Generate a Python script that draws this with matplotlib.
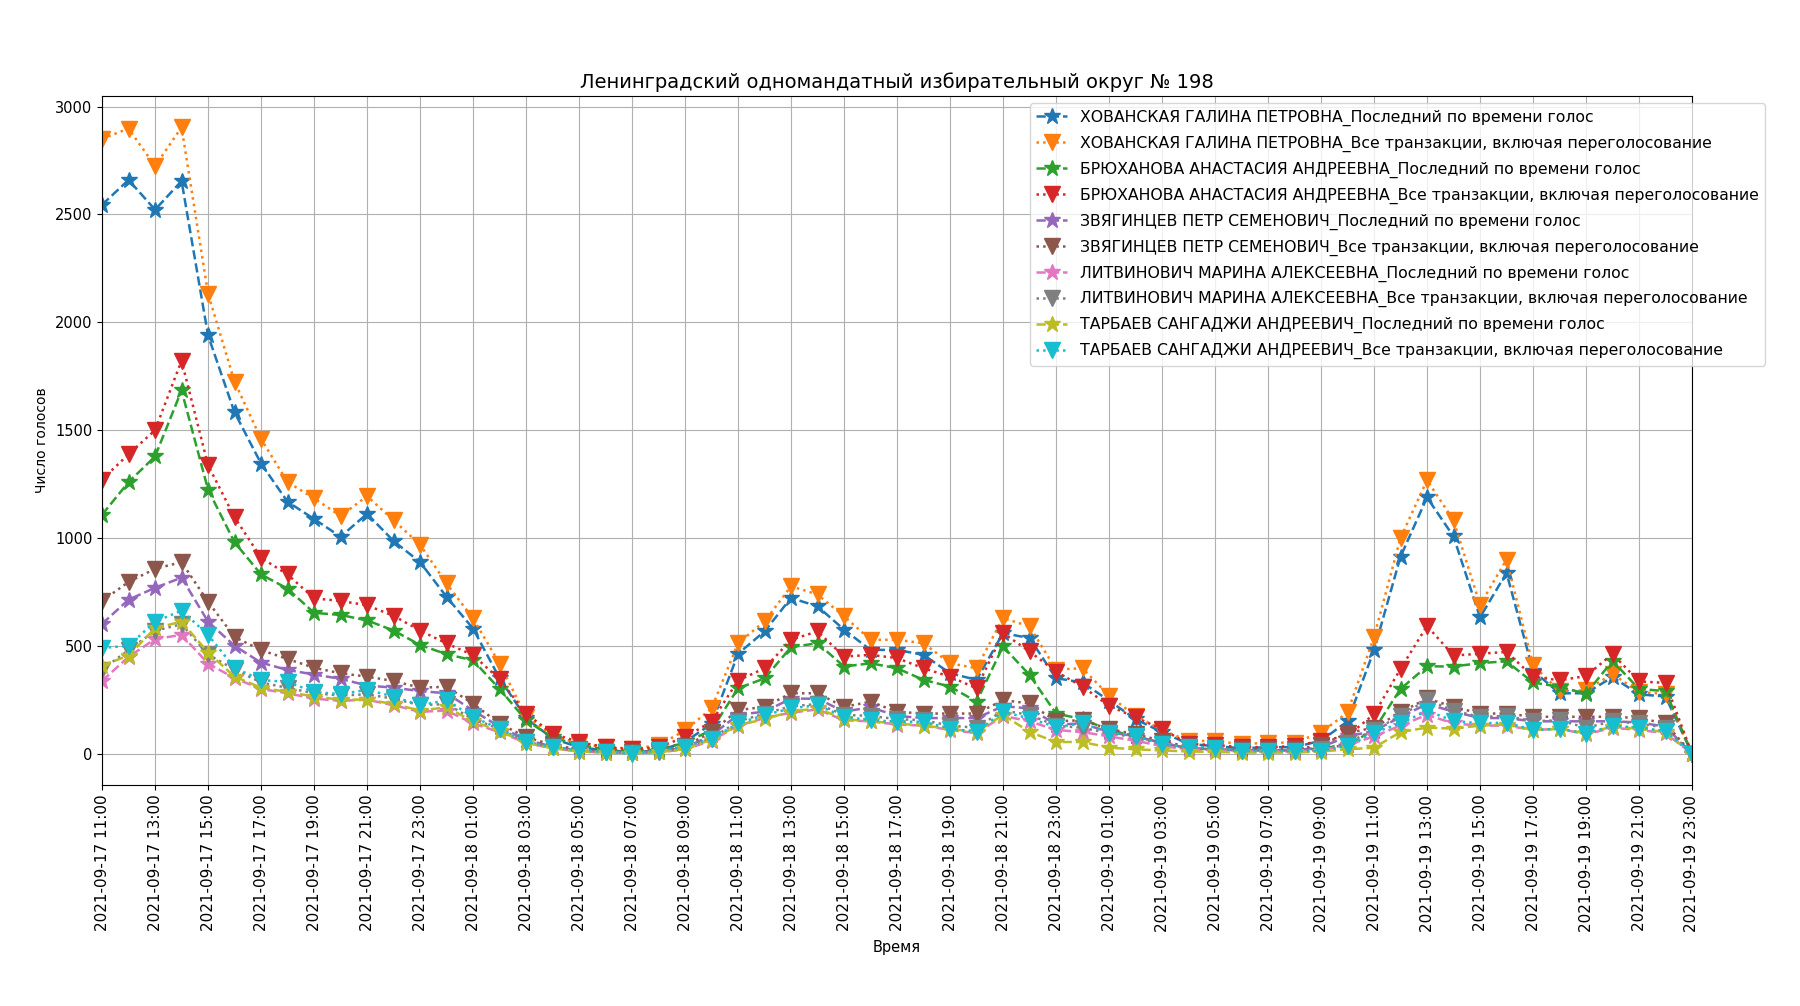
import pandas as pd
import matplotlib
matplotlib.use("Agg")
import matplotlib.pyplot as plt
import matplotlib.dates as mdates

# часы с 2021-09-17 11:00 по 2021-09-19 23:00
hours = pd.date_range("2021-09-17 11:00", "2021-09-19 23:00", freq="h")

hov_last = [2545, 2660, 2522, 2655, 1939, 1582, 1345, 1168, 1088, 1006, 1112, 986, 888,
            727, 580, 350, 165, 70, 30, 15, 8, 12, 55, 138,
            463, 567, 722, 683, 575, 481, 481, 458, 373, 342, 559, 536, 350, 330,
            246, 160, 100, 45, 35, 25, 30, 30, 60, 150,
            479, 913, 1188, 1007, 632, 838, 385, 280, 280, 355, 275, 265, 0]
hov_all = [2851, 2898, 2724, 2904, 2133, 1724, 1459, 1259, 1184, 1102, 1194, 1082, 969,
           789, 627, 418, 172, 85, 45, 31, 23, 39, 108, 210,
           512, 613, 776, 738, 637, 528, 528, 512, 419, 396, 629, 590, 390, 396,
           269, 175, 110, 59, 59, 44, 51, 51, 98, 191,
           541, 1000, 1268, 1082, 690, 900, 410, 290, 293, 370, 285, 278, 0]
bryuh_last = [1108, 1259, 1378, 1684, 1224, 980, 831, 765, 653, 643, 618, 571, 504,
              461, 433, 300, 155, 75, 40, 20, 12, 20, 50, 110,
              303, 349, 494, 512, 404, 419, 396, 342, 311, 241, 497, 365, 186, 160,
              110, 80, 50, 25, 20, 15, 15, 15, 25, 40,
              110, 300, 405, 404, 420, 428, 330, 310, 278, 430, 300, 290, 0]
bryuh_all = [1271, 1388, 1500, 1822, 1337, 1096, 908, 831, 720, 708, 688, 639, 571,
             511, 457, 345, 186, 93, 54, 30, 20, 30, 77, 148,
             339, 396, 528, 567, 450, 458, 443, 396, 357, 303, 559, 474, 380, 311,
             222, 168, 114, 45, 40, 30, 30, 35, 60, 82,
             183, 393, 592, 455, 463, 472, 357, 340, 360, 462, 335, 328, 0]
zvyag_last = [602, 714, 769, 816, 612, 500, 422, 388, 367, 347, 316, 306, 290,
              280, 200, 125, 65, 32, 15, 8, 5, 10, 28, 85,
              180, 195, 255, 255, 195, 215, 175, 165, 165, 165, 220, 210, 135, 140,
              100, 80, 50, 25, 20, 15, 15, 15, 30, 80,
              105, 170, 230, 195, 165, 165, 150, 150, 150, 150, 145, 125, 0]
zvyag_all = [708, 796, 857, 888, 704, 541, 480, 439, 398, 373, 357, 337, 306,
             310, 232, 139, 77, 40, 20, 10, 8, 12, 35, 100,
             202, 217, 280, 280, 217, 241, 194, 186, 186, 186, 248, 233, 150, 155,
             114, 90, 60, 30, 25, 20, 20, 20, 40, 95,
             121, 191, 256, 217, 186, 186, 171, 171, 171, 171, 165, 140, 0]
litv_last = [337, 449, 531, 551, 418, 350, 300, 280, 255, 245, 250, 225, 194,
             200, 140, 100, 50, 25, 10, 5, 3, 6, 20, 60,
             130, 165, 190, 205, 155, 150, 135, 130, 110, 95, 175, 150, 110, 100,
             80, 60, 35, 20, 15, 10, 10, 10, 15, 40,
             80, 130, 180, 140, 130, 130, 110, 115, 90, 120, 110, 95, 0]
litv_all = [390, 480, 570, 600, 460, 390, 330, 305, 280, 270, 275, 255, 225,
            230, 160, 115, 55, 30, 14, 8, 5, 8, 28, 70,
            150, 185, 220, 230, 180, 175, 160, 155, 130, 120, 200, 180, 130, 120,
            95, 75, 45, 25, 20, 12, 12, 12, 20, 50,
            110, 175, 250, 200, 170, 175, 150, 155, 120, 150, 140, 120, 0]
tarb_last = [408, 455, 582, 612, 469, 357, 306, 286, 265, 250, 251, 230, 200,
             215, 150, 105, 50, 25, 10, 5, 3, 6, 22, 65,
             132, 160, 195, 210, 160, 150, 140, 130, 115, 100, 180, 101, 54, 54,
             28, 20, 15, 10, 8, 5, 5, 5, 10, 20,
             28, 100, 121, 116, 130, 135, 110, 115, 95, 125, 115, 100, 0]
tarb_all = [490, 500, 612, 663, 551, 398, 341, 333, 286, 276, 296, 265, 224,
            248, 170, 116, 54, 31, 15, 8, 0, 15, 31, 70,
            140, 179, 210, 225, 171, 155, 148, 148, 116, 101, 194, 163, 124, 140,
            98, 82, 44, 31, 28, 12, 12, 12, 12, 36,
            98, 140, 199, 152, 140, 144, 110, 115, 93, 129, 121, 105, 0]

names = ["ХОВАНСКАЯ ГАЛИНА ПЕТРОВНА", "БРЮХАНОВА АНАСТАСИЯ АНДРЕЕВНА",
         "ЗВЯГИНЦЕВ ПЕТР СЕМЕНОВИЧ", "ЛИТВИНОВИЧ МАРИНА АЛЕКСЕЕВНА",
         "ТАРБАЕВ САНГАДЖИ АНДРЕЕВИЧ"]
series = [(hov_last, hov_all), (bryuh_last, bryuh_all), (zvyag_last, zvyag_all),
          (litv_last, litv_all), (tarb_last, tarb_all)]

fig = plt.figure(figsize=(18, 10.06), dpi=100)
ax = fig.add_axes([0.0567, 0.2197, 0.8833, 0.6849])

for name, (last, allv) in zip(names, series):
    ax.plot(hours, last, "--", marker="*", markersize=12, linewidth=1.8,
            label=name + "_Последний по времени голос")
    ax.plot(hours, allv, ":", marker="v", markersize=11, linewidth=1.8,
            label=name + "_Все транзакции, включая переголосование")

ax.set_xlim(hours[0], hours[-1])
ax.xaxis.set_major_locator(mdates.HourLocator(byhour=range(1, 24, 2)))
ax.xaxis.set_major_formatter(mdates.DateFormatter("%Y-%m-%d %H:%M"))
plt.setp(ax.get_xticklabels(), rotation=90)
ax.tick_params(axis="x", labelsize=11)
ax.tick_params(axis="y", labelsize=10.5)
ax.grid(True)

ax.set_title("Ленинградский одномандатный избирательный округ № 198", fontsize=14)
ax.set_xlabel("Время", fontsize=10.5, labelpad=6)
ax.set_ylabel("Число голосов", fontsize=10)

ax.legend(loc="upper right", bbox_to_anchor=(0.985, 0.905),
          bbox_transform=fig.transFigure, fontsize=11.3, labelspacing=0.62)

fig.savefig("out.png", dpi=100)
